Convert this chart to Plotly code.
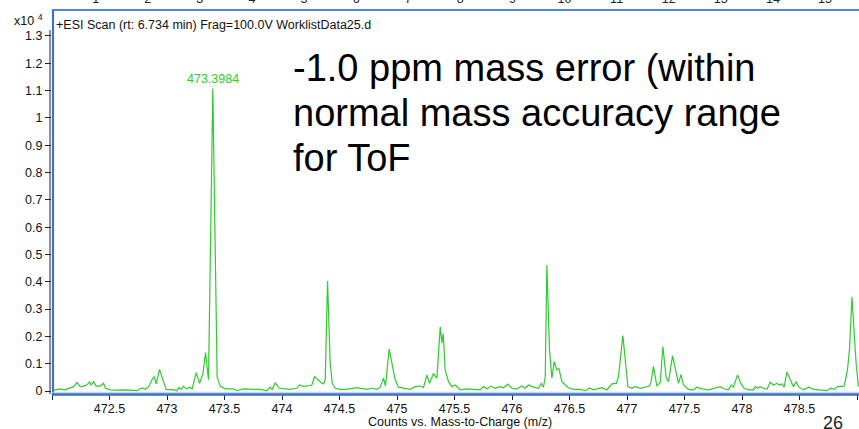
import plotly.graph_objects as go

# ---- data (m/z, intensity in units of 10^4 counts) ----
mz = [
    472.013, 472.071, 472.115, 472.158, 472.187, 472.217, 472.245, 472.274, 472.303, 472.326,
    472.341, 472.361, 472.384, 472.419, 472.448, 472.465, 472.506, 472.564, 472.651, 472.738,
    472.782, 472.810, 472.839, 472.869, 472.889, 472.906, 472.935, 472.964, 472.993, 473.057,
    473.086, 473.100, 473.121, 473.143, 473.167, 473.196, 473.219, 473.254, 473.283, 473.312,
    473.335, 473.361, 473.3984, 473.436, 473.463, 473.506, 473.578, 473.608, 473.665, 473.752,
    473.810, 473.869, 473.897, 473.915, 473.941, 473.978, 474.071, 474.130, 474.152, 474.187,
    474.230, 474.260, 474.283, 474.309, 474.338, 474.361, 474.376, 474.396, 474.419, 474.437,
    474.463, 474.506, 474.564, 474.651, 474.738, 474.782, 474.825, 474.854, 474.883, 474.900,
    474.932, 474.956, 474.984, 475.013, 475.057, 475.115, 475.158, 475.202, 475.230, 475.260,
    475.283, 475.317, 475.347, 475.376, 475.390, 475.402, 475.419, 475.448, 475.477, 475.506,
    475.550, 475.608, 475.665, 475.723, 475.752, 475.782, 475.817, 475.854, 475.897, 475.926,
    475.964, 475.999, 476.043, 476.086, 476.115, 476.143, 476.187, 476.230, 476.254, 476.274,
    476.289, 476.303, 476.326, 476.347, 476.367, 476.390, 476.407, 476.434, 476.463, 476.491,
    476.535, 476.593, 476.637, 476.674, 476.709, 476.782, 476.825, 476.869, 476.907, 476.926,
    476.964, 476.987, 477.008, 477.043, 477.071, 477.115, 477.158, 477.196, 477.210, 477.230,
    477.260, 477.289, 477.312, 477.341, 477.361, 477.396, 477.419, 477.448, 477.469, 477.491,
    477.535, 477.578, 477.608, 477.651, 477.709, 477.767, 477.810, 477.845, 477.883, 477.906,
    477.926, 477.961, 477.990, 478.019, 478.057, 478.100, 478.115, 478.135, 478.158, 478.187,
    478.217, 478.245, 478.274, 478.303, 478.326, 478.347, 478.367, 478.390, 478.419, 478.448,
    478.471, 478.495, 478.535, 478.578, 478.622, 478.680, 478.738, 478.773, 478.802, 478.830,
    478.869, 478.889, 478.917, 478.935, 478.956, 478.976, 478.993, 479.013,
]
intensity = [
    0.002, 0.008, 0.004, 0.011, 0.016, 0.031, 0.016, 0.018, 0.022, 0.033,
    0.022, 0.034, 0.018, 0.018, 0.028, 0.010, 0.004, 0.003, 0.004, 0.001,
    0.011, 0.006, 0.014, 0.041, 0.053, 0.026, 0.079, 0.041, 0.006, 0.004,
    0.001, 0.012, 0.006, 0.018, 0.008, 0.014, 0.008, 0.067, 0.028, 0.063,
    0.141, 0.041, 1.108, 0.050, 0.018, 0.008, 0.008, 0.001, 0.008, 0.006,
    0.006, 0.001, 0.014, 0.006, 0.030, 0.010, 0.006, 0.010, 0.022, 0.016,
    0.018, 0.022, 0.053, 0.041, 0.031, 0.026, 0.041, 0.403, 0.102, 0.028,
    0.010, 0.006, 0.006, 0.012, 0.006, 0.010, 0.006, 0.014, 0.047, 0.018,
    0.154, 0.102, 0.041, 0.014, 0.010, 0.006, 0.016, 0.018, 0.012, 0.058,
    0.028, 0.063, 0.047, 0.235, 0.176, 0.210, 0.077, 0.034, 0.016, 0.022,
    0.004, 0.008, 0.006, 0.004, 0.016, 0.008, 0.018, 0.010, 0.016, 0.012,
    0.025, 0.010, 0.007, 0.018, 0.010, 0.022, 0.014, 0.010, 0.028, 0.014,
    0.053, 0.461, 0.151, 0.047, 0.108, 0.077, 0.084, 0.034, 0.022, 0.012,
    0.006, 0.006, 0.001, 0.011, 0.004, 0.012, 0.004, 0.026, 0.028, 0.053,
    0.203, 0.114, 0.016, 0.010, 0.016, 0.010, 0.014, 0.018, 0.034, 0.090,
    0.018, 0.031, 0.163, 0.047, 0.034, 0.129, 0.084, 0.028, 0.060, 0.022,
    0.006, 0.004, 0.014, 0.008, 0.004, 0.010, 0.016, 0.008, 0.004, 0.022,
    0.014, 0.059, 0.028, 0.010, 0.004, 0.004, 0.016, 0.010, 0.016, 0.010,
    0.006, 0.032, 0.022, 0.028, 0.022, 0.026, 0.014, 0.070, 0.041, 0.016,
    0.034, 0.014, 0.004, 0.014, 0.006, 0.004, 0.001, 0.010, 0.006, 0.016,
    0.018, 0.018, 0.077, 0.154, 0.344, 0.209, 0.097, 0.016,
]

peak_mz = 473.3984
peak_label = "473.3984"

y_tick_vals = [0, 0.1, 0.2, 0.3, 0.4, 0.5, 0.6, 0.7, 0.8, 0.9, 1.0, 1.1, 1.2, 1.3]
y_tick_text = ["0", "0.1", "0.2", "0.3", "0.4", "0.5", "0.6", "0.7", "0.8", "0.9",
               "1", "1.1", "1.2", "1.3"]
x_tick_vals = [472.5, 473, 473.5, 474, 474.5, 475, 475.5, 476, 476.5, 477, 477.5, 478, 478.5]
x_tick_text = ["472.5", "473", "473.5", "474", "474.5", "475", "475.5", "476",
               "476.5", "477", "477.5", "478", "478.5"]
top_tick_vals = [1, 2, 3, 4, 5, 6, 7, 8, 9, 10, 11, 12, 13, 14, 15]
top_tick_text = [str(v) for v in top_tick_vals]

scan_title = "+ESI Scan (rt: 6.734 min) Frag=100.0V WorklistData25.d"
note_lines = ["-1.0 ppm mass error (within", "normal mass accuracy range", "for ToF"]
x_title = "Counts vs. Mass-to-Charge (m/z)"
slide_no = "26"

# ---- layout geometry ----
W, H = 859, 429
L, R, T, B = 52, 0, 11, 35
PW, PH = W - L - R, H - T - B
FONT = "Liberation Sans, Arial, Helvetica, sans-serif"
GREEN = "#2ecc2e"


def px_x(px):
    return (px - L) / PW


def px_y(py):
    return (H - B - py) / PH


fig = go.Figure()
fig.add_trace(go.Scatter(x=mz, y=intensity, mode="lines",
                         line=dict(color=GREEN, width=1.2), hoverinfo="skip"))
fig.add_trace(go.Scatter(x=[], y=[], xaxis="x2", mode="lines", showlegend=False))

annotations = [
    dict(text="x10 <sup>4</sup>", x=px_x(12), y=px_y(19.5), xref="paper", yref="paper",
         xanchor="left", yanchor="middle", showarrow=False,
         font=dict(family=FONT, size=12.5, color="#111")),
    dict(text=scan_title, x=px_x(54), y=px_y(24.7), xref="paper", yref="paper",
         xanchor="left", yanchor="middle", showarrow=False,
         font=dict(family=FONT, size=12.5, color="#111")),
    dict(text=peak_label, x=peak_mz, y=max(intensity), xref="x", yref="y",
         xanchor="center", yanchor="bottom", showarrow=False,
         font=dict(family=FONT, size=12.5, color=GREEN)),
    dict(text=x_title, x=px_x(460), y=px_y(421.5), xref="paper", yref="paper",
         xanchor="center", yanchor="middle", showarrow=False,
         font=dict(family=FONT, size=12.5, color="#111")),
    dict(text=slide_no, x=px_x(833), y=px_y(423), xref="paper", yref="paper",
         xanchor="center", yanchor="middle", showarrow=False,
         font=dict(family=FONT, size=18, color="#222")),
]
for i, line in enumerate(note_lines):
    annotations.append(dict(text=line, x=px_x(291), y=px_y(68 + 45 * i),
                            xref="paper", yref="paper", xanchor="left", yanchor="middle",
                            showarrow=False,
                            font=dict(family=FONT, size=38, color="#000")))

shapes = [
    # black y axis line
    dict(type="line", xref="paper", yref="paper", x0=px_x(50), x1=px_x(50),
         y0=px_y(394), y1=px_y(30), line=dict(color="#222", width=1)),
    # blue frame: top, left, bottom
    dict(type="line", xref="paper", yref="paper", x0=px_x(52), x1=1.01,
         y0=px_y(10), y1=px_y(10), line=dict(color="#4f86dc", width=2)),
    dict(type="line", xref="paper", yref="paper", x0=px_x(53), x1=px_x(53),
         y0=px_y(395), y1=px_y(10), line=dict(color="#3d72d2", width=2.2)),
    dict(type="line", xref="paper", yref="paper", x0=px_x(52), x1=1.01,
         y0=px_y(392.3), y1=px_y(392.3), line=dict(color="#b4cbf0", width=1)),
    dict(type="line", xref="paper", yref="paper", x0=px_x(52), x1=1.01,
         y0=px_y(394.5), y1=px_y(394.5), line=dict(color="#3a6cc8", width=2.5)),
]

fig.update_layout(
    width=W, height=H,
    margin=dict(l=L, r=R, t=T, b=B, pad=0, autoexpand=False),
    paper_bgcolor="white", plot_bgcolor="white",
    showlegend=False,
    font=dict(family=FONT, size=12.5, color="#111"),
    xaxis=dict(range=[472, 472 + PW / 115.0], tickvals=x_tick_vals, ticktext=x_tick_text,
               ticks="outside", ticklen=5, tickcolor="#222", tickwidth=1,
               ticklabelstandoff=-2,
               minor=dict(tick0=472, dtick=0.5, ticks="outside", ticklen=5,
                          tickcolor="#222", tickwidth=1),
               showgrid=False, zeroline=False, showline=False, automargin=False,
               tickfont=dict(family=FONT, size=12.5, color="#111")),
    xaxis2=dict(overlaying="x", side="top", anchor="y", range=[0.163, 15.653],
                tickvals=top_tick_vals, ticktext=top_tick_text,
                ticks="outside", ticklen=2, tickcolor="rgba(0,0,0,0)",
                showgrid=False, zeroline=False, showline=False, automargin=False,
                tickfont=dict(family=FONT, size=12.5, color="#222")),
    yaxis=dict(range=[-0.011, 1.3914], tickvals=y_tick_vals, ticktext=y_tick_text,
               ticks="outside", ticklen=6, tickcolor="#222", tickwidth=1,
               showgrid=False, zeroline=False, showline=False, automargin=False,
               tickfont=dict(family=FONT, size=12.5, color="#111")),
    annotations=annotations,
    shapes=shapes,
)

fig.write_html("out.html",
               config={"displayModeBar": False, "staticPlot": True},
               post_script="document.body.style.margin='0px';"
                           "document.body.style.overflow='hidden';")
